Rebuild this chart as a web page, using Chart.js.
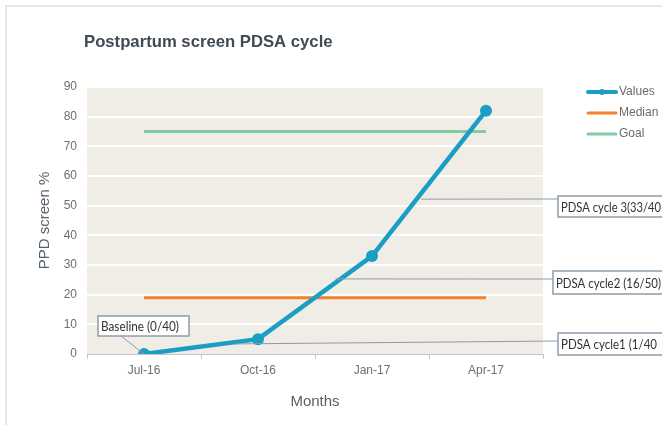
<!DOCTYPE html>
<html>
<head>
<meta charset="utf-8">
<script src="https://cdn.jsdelivr.net/npm/chart.js@4.4.1/dist/chart.umd.min.js"></script>
<style>
  html, body { margin: 0; padding: 0; background: #fff; }
  #wrap { position: relative; width: 662px; height: 425px; overflow: hidden; }
  #frame { position: absolute; left: 5px; top: 5px; width: 700px; height: 500px;
           border-left: 2px solid #e4e8eb; border-top: 2px solid #e4e8eb; }
  #chart { position: absolute; left: 0; top: 0; }
</style>
</head>
<body>
<div id="wrap">
  <div id="frame"></div>
  <canvas id="chart" width="662" height="425"></canvas>
</div>
<script>
// --- data ---
const months = ['Jul-16', 'Oct-16', 'Jan-17', 'Apr-17'];
const values = [0, 5, 33, 82];
const median = [19, 19, 19, 19];
const goal = [75, 75, 75, 75];
const yMin = 0, yMax = 90, yStep = 10;

// callout labels: anchor is [category index, value], the rest is pixel layout
const callouts = [
  { text: 'Baseline (0/40)',     at: [0, 0],       from: [121, 336], box: [98, 316, 91, 20],  tw: 78 },
  { text: 'PDSA cycle1 (1/40',   at: [0.8, 3.4],   from: [558, 341], box: [558, 333, 110, 22], tw: 96 },
  { text: 'PDSA cycle2 (16/50)', at: [1.68, 25.3], from: [553, 279], box: [553, 271, 112, 23], tw: 105 },
  { text: 'PDSA cycle 3(33/40',  at: [2.43, 52.2], from: [558, 199], box: [558, 196, 110, 21], tw: 100 }
];

const BLUE = '#1a9ec4', ORANGE = '#f5822a', GREEN = '#82cba5';
Chart.defaults.font.family = '"Liberation Sans", Arial, sans-serif';

// beige plot area, title, callouts, legend
const decor = {
  id: 'decor',
  beforeDraw(chart) {
    const { ctx, chartArea: a } = chart;
    ctx.save();
    ctx.fillStyle = '#f0ece6';
    ctx.fillRect(a.left, a.top, a.right - a.left, a.bottom - a.top);
    ctx.fillStyle = '#3f4a54';
    ctx.font = 'bold 16.7px "Liberation Sans", Arial, sans-serif';
    ctx.textBaseline = 'alphabetic';
    ctx.fillText('Postpartum screen PDSA cycle', 84, 47);
    ctx.restore();
  },
  afterDatasetsDraw(chart) {
    const { ctx } = chart;
    const xs = chart.scales.x, ys = chart.scales.y;
    ctx.save();
    callouts.forEach(c => {
      const ax = xs.getPixelForValue(c.at[0]);
      const ay = ys.getPixelForValue(c.at[1]);
      ctx.strokeStyle = '#8c9caa';
      ctx.lineWidth = 1;
      ctx.beginPath();
      ctx.moveTo(ax, ay);
      ctx.lineTo(c.from[0], c.from[1]);
      ctx.stroke();
      const [bx, by, bw, bh] = c.box;
      ctx.fillStyle = '#ffffff';
      ctx.fillRect(bx, by, bw, bh);
      ctx.lineWidth = 1.5;
      ctx.strokeRect(bx, by, bw, bh);
      ctx.fillStyle = '#333333';
      ctx.font = '12.5px Lato, "Open Sans", sans-serif';
      ctx.textBaseline = 'middle';
      ctx.fillText(c.text, bx + 3, by + bh / 2 + 1, c.tw);
    });
    ctx.restore();
  },
  afterDraw(chart) {
    const { ctx } = chart;
    ctx.save();
    chart.data.datasets.forEach((ds, i) => {
      const y = 92 + i * 21;
      ctx.strokeStyle = ds.borderColor;
      ctx.lineWidth = i === 0 ? 4 : 3;
      ctx.lineCap = 'round';
      ctx.beginPath();
      ctx.moveTo(588, y);
      ctx.lineTo(616, y);
      ctx.stroke();
      if (i === 0) {
        ctx.fillStyle = ds.borderColor;
        ctx.beginPath();
        ctx.arc(602, y, 3, 0, Math.PI * 2);
        ctx.fill();
      }
      ctx.fillStyle = '#6a6a6a';
      ctx.font = '12px "Liberation Sans", Arial, sans-serif';
      ctx.textBaseline = 'middle';
      ctx.fillText(ds.label, 619, y);
    });
    ctx.restore();
  }
};

new Chart(document.getElementById('chart'), {
  type: 'line',
  data: {
    labels: months,
    datasets: [
      { label: 'Values', data: values, borderColor: BLUE, backgroundColor: BLUE,
        borderWidth: 4.5, pointRadius: 6, pointBorderWidth: 0, pointBackgroundColor: BLUE },
      { label: 'Median', data: median, borderColor: ORANGE, borderWidth: 3, pointRadius: 0 },
      { label: 'Goal', data: goal, borderColor: GREEN, borderWidth: 3, pointRadius: 0 }
    ]
  },
  options: {
    responsive: false,
    animation: false,
    devicePixelRatio: 1,
    layout: { padding: { left: 0, top: 87, right: 119, bottom: 0 } },
    plugins: { legend: { display: false }, tooltip: { enabled: false } },
    scales: {
      x: {
        offset: true,
        grid: { offset: true, drawOnChartArea: false, drawTicks: true, tickLength: 5, color: '#c4c4c4' },
        border: { display: true, color: '#c4c4c4', width: 1 },
        ticks: { padding: 4, color: '#6f6f6f', font: { size: 12 }, maxRotation: 0 },
        title: { display: true, text: 'Months', color: '#56616b', font: { size: 15 }, padding: { top: 0, bottom: 14 } },
        afterFit(s) { s.height = 71; }
      },
      y: {
        min: yMin, max: yMax,
        ticks: { stepSize: yStep, padding: 10, color: '#6f6f6f', font: { size: 12 } },
        grid: { color: ctx => ctx.tick && ctx.tick.value === 0 ? 'rgba(0,0,0,0)' : '#ffffff', lineWidth: 2, drawTicks: false },
        border: { display: false },
        title: { display: true, text: 'PPD screen %', color: '#56616b', font: { size: 15 }, padding: { top: 36, bottom: 0 } },
        afterFit(s) { s.width = 87; }
      }
    }
  },
  plugins: [decor]
});
</script>
</body>
</html>
